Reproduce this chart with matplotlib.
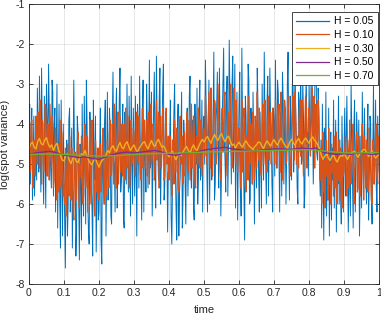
import numpy as np
import matplotlib.pyplot as plt

plt.rcParams['font.family'] = ['Liberation Sans', 'DejaVu Sans']
plt.rcParams['axes.unicode_minus'] = False

# log(spot variance) paths, one list per Hurst index
h005 = [
    -4.2, -3.5, -5.5, -4.4, -3.6, -5.9, -4.9, -3.8, -5.8, -4.6, -4.0, -5.4, -3.1, -4.3, -5.2, -2.8, -4.4, -5.7, -2.6, -4.1, -5.0, -6.0, -3.3, -4.7, -6.1,
    -3.0, -3.9, -5.3, -2.5, -3.7, -4.6, -5.1, -5.6, -2.9, -3.2, -5.8, -4.1, -3.6, -6.2, -4.5, -3.0, -6.6, -4.8, -3.5, -5.9, -7.1, -3.4, -5.3, -6.8, -4.0,
    -5.3, -6.4, -7.6, -4.9, -4.4, -6.8, -6.0, -3.9, -3.6, -6.2, -5.5, -4.1, -7.1, -5.0, -2.9, -4.6, -5.0, -7.3, -6.6, -3.8, -4.2, -5.8, -7.4, -4.5, -5.6,
    -6.9, -3.5, -5.2, -6.3, -3.3, -4.8, -6.5, -2.9, -4.0, -5.9, -6.7, -7.0, -3.7, -4.3, -5.5, -6.1, -7.3, -3.4, -4.9, -5.4, -3.8, -7.2, -5.7, -4.6, -6.4,
    -6.2, -4.7, -3.6, -6.9, -7.5, -4.3, -5.1, -6.0, -4.0, -3.4, -6.8, -5.3, -3.2, -5.9, -5.5, -3.6, -4.3, -6.3, -6.5, -3.9, -2.7, -4.8, -5.0, -6.2, -3.8,
    -3.1, -6.1, -5.2, -4.5, -3.4, -2.6, -5.7, -5.4, -4.1, -3.5, -6.4, -6.6, -3.7, -4.2, -5.5, -3.0, -4.7, -5.7, -3.3, -4.4, -6.3, -2.8, -4.9, -6.0, -3.6,
    -4.6, -5.8, -3.3, -4.9, -6.8, -3.5, -4.0, -5.6, -2.8, -4.5, -5.3, -6.4, -3.7, -2.9, -6.2, -4.1, -4.8, -5.7, -3.0, -3.9, -5.6, -4.3, -2.4, -5.1, -4.4,
    -3.2, -6.3, -5.0, -3.6, -2.7, -5.0, -6.1, -2.3, -4.0, -4.7, -5.4, -3.4, -2.6, -6.0, -4.8, -4.2, -3.1, -2.5, -5.9, -5.5, -3.7, -3.9, -4.6, -6.7, -5.2,
    -5.2, -4.4, -3.4, -6.3, -7.0, -5.5, -4.6, -3.7, -3.0, -5.0, -6.1, -6.9, -4.1, -3.5, -6.8, -5.7, -5.3, -4.2, -3.2, -6.6, -5.8, -3.9, -4.4, -5.5, -6.5,
    -4.0, -3.6, -5.8, -4.9, -3.3, -2.8, -5.2, -5.6, -4.3, -3.9, -6.1, -6.4, -3.5, -4.5, -5.0, -3.1, -6.0, -5.3, -3.6, -2.9, -5.4, -4.7, -3.4, -6.2, -4.1,
    -3.8, -5.0, -2.4, -3.5, -5.1, -6.2, -4.2, -2.9, -6.0, -4.4, -3.1, -5.4, -4.8, -3.7, -2.2, -5.9, -5.5, -4.0, -3.6, -2.7, -4.5, -5.6, -2.6, -4.3, -6.3,
    -5.1, -3.9, -3.0, -2.1, -4.4, -4.9, -5.7, -3.3, -2.8, -5.8, -4.5, -1.9, -3.4, -4.1, -5.5, -3.0, -2.3, -5.2, -4.0, -2.5, -6.1, -4.6, -3.2, -6.4, -4.7,
    -3.5, -2.7, -5.4, -6.3, -2.1, -4.0, -4.6, -5.7, -6.9, -3.3, -3.8, -5.2, -4.9, -2.5, -2.9, -6.0, -5.9, -3.6, -4.2, -5.5, -3.2, -4.5, -6.5, -3.9, -4.7,
    -5.6, -2.6, -3.5, -5.3, -6.2, -3.7, -4.8, -6.1, -3.0, -4.4, -5.4, -2.2, -3.9, -5.0, -6.0, -3.4, -2.8, -5.8, -4.6, -2.6, -3.8, -4.3, -5.5, -6.2, -3.6,
    -3.9, -5.3, -2.4, -4.4, -5.1, -2.9, -3.2, -4.7, -6.2, -3.7, -4.5, -5.8, -2.7, -3.4, -5.5, -4.1, -3.6, -6.0, -4.8, -3.0, -2.2, -4.6, -5.9, -3.3, -4.0,
    -5.4, -3.1, -2.6, -5.2, -4.3, -2.5, -3.8, -4.4, -5.6, -6.0, -3.2, -3.5, -4.7, -2.3, -5.0, -4.9, -2.9, -3.8, -6.1, -5.7, -3.6, -2.8, -4.5, -4.2, -5.3,
    -3.0, -4.1, -4.6, -2.6, -2.2, -3.8, -5.5, -4.3, -3.4, -2.4, -2.0, -4.7, -4.9, -3.1, -3.7, -5.2, -5.8, -4.4, -6.6, -3.5, -5.2, -6.9, -4.1, -5.6, -3.2,
    -6.3, -4.8, -5.9, -3.6, -6.8, -5.0, -4.2, -6.4, -4.6, -5.4, -3.4, -6.1, -5.0, -3.9, -6.7, -4.7, -5.5, -3.3, -6.0, -4.4, -5.7, -6.5, -3.8, -5.1, -6.2,
    -4.5, -3.6, -5.8, -4.4, -3.3, -5.1, -6.7, -5.4, -4.9, -6.3, -3.0, -4.2, -5.5, -6.6, -4.1, -3.4, -6.2, -5.0, -3.7, -4.6, -5.1, -3.9, -6.8, -5.6, -4.3,
    -6.1, -3.2, -4.8, -5.7, -3.6, -4.7, -5.3, -6.0, -4.2, -3.5, -6.4, -5.3, -3.8, -4.0, -5.9, -6.5, -4.6, -3.0, -5.5, -4.8, -3.4, -5.6, -6.2, -3.8, -4.5,
    -5.2,
]
h010 = [
    -4.3, -4.9, -5.2, -4.0, -3.9, -5.0, -5.6, -4.4, -4.6, -5.3, -3.8, -4.5, -5.0, -3.7, -4.2, -5.1, -3.4, -4.6, -5.5, -3.9, -4.0, -5.2, -4.8, -3.5, -3.6,
    -4.7, -5.3, -4.0, -4.4, -5.4, -3.5, -4.3, -5.1, -3.8, -4.7, -5.6, -5.4, -4.4, -4.1, -5.3, -5.9, -4.8, -4.5, -5.7, -3.9, -4.9, -5.6, -4.2, -5.0, -5.8,
    -5.5, -6.0, -4.6, -5.4, -6.3, -4.5, -5.0, -5.8, -4.3, -4.9, -5.9, -4.6, -5.2, -6.1, -6.4, -5.1, -4.7, -5.9, -5.6, -4.5, -4.2, -5.3, -6.1, -5.0, -5.3,
    -4.3, -4.4, -6.0, -5.8, -4.8, -4.0, -5.6, -5.1, -4.3, -6.2, -5.4, -4.6, -3.9, -5.5, -6.0, -3.9, -4.7, -5.0, -5.9, -6.3, -4.4, -4.8, -5.7, -5.4, -4.6,
    -5.9, -5.0, -4.5, -5.7, -5.3, -4.3, -4.1, -5.5, -6.0, -4.7, -5.0, -5.8, -4.4, -4.9, -5.6, -4.2, -3.9, -5.3, -5.2, -4.0, -4.6, -5.5, -3.5, -4.4, -5.0,
    -5.6, -4.2, -3.7, -5.5, -4.6, -3.8, -5.2, -4.7, -4.0, -5.3, -4.5, -4.0, -5.4, -3.6, -4.9, -5.1, -3.8, -4.5, -5.5, -5.6, -4.3, -3.9, -5.0, -4.8, -4.1,
    -4.2, -4.8, -5.3, -4.1, -3.7, -5.0, -4.9, -3.8, -4.3, -5.2, -5.4, -4.4, -3.6, -5.1, -4.6, -3.9, -5.1, -4.5, -3.9, -5.3, -4.4, -3.7, -5.5, -4.6, -3.5,
    -5.0, -4.8, -4.0, -4.1, -5.4, -5.2, -4.3, -3.4, -4.9, -4.5, -3.7, -5.6, -4.4, -3.8, -5.1, -4.7, -3.6, -4.0, -5.4, -5.3, -4.2, -3.6, -5.0, -4.9, -4.3,
    -5.4, -4.8, -4.3, -5.3, -5.8, -4.4, -4.7, -5.5, -3.9, -4.6, -5.2, -4.1, -4.5, -5.6, -5.7, -4.2, -3.8, -5.0, -4.9, -4.3, -5.5, -4.7, -4.2, -5.3, -5.0,
    -4.0, -3.7, -5.2, -4.6, -3.9, -5.4, -4.5, -3.5, -5.1, -4.8, -3.8, -4.1, -5.4, -5.6, -4.3, -4.4, -5.0, -3.6, -4.6, -5.1, -3.9, -4.0, -5.3, -4.7, -4.1,
    -4.2, -4.8, -3.3, -4.1, -5.0, -4.4, -3.8, -3.2, -4.6, -5.1, -3.1, -3.9, -5.3, -4.5, -4.0, -3.4, -3.5, -5.0, -4.8, -4.2, -3.0, -3.7, -4.4, -5.2, -5.4,
    -4.0, -3.6, -4.7, -4.1, -3.3, -3.2, -4.5, -4.9, -5.3, -3.7, -4.2, -4.5, -3.5, -3.0, -4.7, -5.1, -4.4, -3.9, -3.1, -4.3, -5.0, -3.4, -4.6, -5.2, -4.4,
    -4.1, -4.9, -5.6, -4.2, -3.4, -5.2, -4.8, -3.6, -3.9, -5.0, -5.7, -4.3, -4.4, -5.4, -3.3, -4.1, -5.0, -4.0, -4.6, -5.5, -3.7, -4.4, -5.4, -3.8, -4.0,
    -5.1, -3.2, -4.5, -4.9, -3.6, -4.3, -5.2, -5.3, -4.1, -3.5, -5.0, -4.7, -3.4, -3.9, -4.8, -5.2, -4.4, -3.3, -4.9, -4.5, -3.7, -5.0, -4.2, -3.6, -4.6,
    -4.4, -5.0, -3.4, -4.2, -5.1, -4.5, -3.9, -3.5, -4.7, -5.2, -3.2, -4.0, -5.4, -4.6, -4.1, -3.4, -3.6, -5.0, -4.9, -4.3, -3.3, -3.9, -4.5, -5.3, -5.2,
    -4.4, -3.8, -3.3, -4.2, -4.9, -3.2, -3.8, -5.0, -4.4, -4.3, -5.1, -3.7, -3.4, -4.8, -4.0, -3.4, -4.6, -5.3, -4.5, -4.0, -3.3, -3.5, -5.1, -4.6, -3.9,
    -3.6, -4.4, -4.8, -3.7, -3.1, -4.6, -4.3, -3.3, -5.1, -4.0, -3.5, -4.7, -4.5, -3.4, -3.9, -4.9, -5.4, -4.6, -6.0, -5.0, -4.2, -5.7, -4.9, -6.1, -4.4,
    -5.3, -4.8, -5.9, -4.1, -5.5, -5.0, -6.0, -4.5, -5.2, -4.7, -5.8, -4.3, -5.6, -5.1, -4.2, -6.0, -4.9, -5.4, -4.4, -5.9, -4.6, -5.2, -6.1, -4.8, -5.3,
    -5.2, -4.6, -4.3, -5.4, -5.8, -4.4, -4.8, -5.6, -3.9, -4.7, -5.5, -5.1, -4.6, -4.0, -6.0, -5.2, -5.0, -4.5, -4.2, -5.7, -5.6, -4.3, -4.7, -5.8, -5.3,
    -4.5, -4.0, -5.1, -5.9, -4.3, -4.9, -5.6, -4.4, -4.8, -5.7, -5.0, -4.1, -4.6, -5.2, -5.9, -6.0, -4.4, -4.6, -5.5, -5.1, -4.2, -4.0, -5.3, -5.5, -4.3,
    -4.8,
]
h030 = [
    -4.62, -4.50, -4.45, -4.58, -4.62, -4.44, -4.36, -4.49, -4.52, -4.40, -4.34, -4.50, -4.58, -4.52, -4.66, -4.54, -4.48, -4.66, -4.78, -4.90,
    -4.92, -4.80, -4.74, -4.90, -4.99, -4.86, -4.82, -4.93, -4.96, -4.82, -4.74, -4.78, -4.66, -4.79, -4.89, -4.97, -5.02, -4.90, -4.86, -4.98,
    -5.08, -4.96, -4.90, -4.84, -4.78, -4.66, -4.72, -4.60, -4.54, -4.64, -4.68, -4.55, -4.46, -4.58, -4.62, -4.50, -4.44, -4.56, -4.66, -4.58,
    -4.52, -4.63, -4.71, -4.60, -4.54, -4.47, -4.44, -4.55, -4.62, -4.50, -4.41, -4.52, -4.56, -4.44, -4.38, -4.49, -4.58, -4.55, -4.64, -4.75,
    -4.82, -4.73, -4.68, -4.81, -4.89, -4.78, -4.72, -4.79, -4.70, -4.62, -4.56, -4.66, -4.73, -4.60, -4.52, -4.62, -4.66, -4.55, -4.46, -4.38,
    -4.45, -4.36, -4.31, -4.41, -4.48, -4.35, -4.26, -4.35, -4.41, -4.30, -4.24, -4.36, -4.44, -4.34, -4.30, -4.42, -4.53, -4.50, -4.60, -4.51,
    -4.45, -4.53, -4.58, -4.48, -4.42, -4.50, -4.56, -4.59, -4.64, -4.56, -4.52, -4.45, -4.46, -4.55, -4.61, -4.50, -4.42, -4.49, -4.55, -4.46,
    -4.39, -4.47, -4.53, -4.42, -4.35, -4.44, -4.51, -4.58, -4.57, -4.45, -4.38, -4.47, -4.53, -4.42, -4.36, -4.45, -4.50, -4.41, -4.35, -4.42,
    -4.48, -4.38, -4.32, -4.40, -4.45, -4.52, -4.62, -4.78, -4.88, -4.80, -4.75, -4.85, -4.91, -4.82, -4.77, -4.88, -4.95, -4.85, -4.79, -4.80,
    -4.72, -4.82, -4.88, -4.79, -4.75, -4.70, -4.68, -4.77, -4.83, -4.74, -4.69, -4.64, -4.63, -4.74, -4.81, -4.72, -4.67, -4.78, -4.85, -4.80,
    -4.75,
]
h050 = [
    -4.76, -4.72, -4.70, -4.68, -4.72, -4.78, -4.80, -4.84, -4.82, -4.86,
    -4.88, -4.82, -4.76, -4.72, -4.70, -4.72, -4.70, -4.68, -4.66, -4.70,
    -4.76, -4.78, -4.74, -4.72, -4.70, -4.65, -4.62, -4.60, -4.58, -4.62,
    -4.64, -4.66, -4.68, -4.66, -4.64, -4.62, -4.62, -4.64, -4.62, -4.60,
    -4.62, -4.60, -4.70, -4.74, -4.76, -4.74, -4.76, -4.72, -4.74, -4.76, -4.74,
]
h070 = [-4.76, -4.75, -4.76, -4.78, -4.80, -4.79, -4.76, -4.74, -4.73, -4.72,
        -4.70, -4.69, -4.68, -4.67, -4.66, -4.65, -4.64, -4.68, -4.72, -4.72, -4.71]

series = [h005, h010, h030, h050, h070]
labels = ['H = 0.05', 'H = 0.10', 'H = 0.30', 'H = 0.50', 'H = 0.70']
colors = ['#0072BD', '#D95319', '#EDB120', '#7E2F8E', '#77AC30']
widths = [0.7, 0.9, 1.0, 1.0, 1.0]

fig = plt.figure(figsize=(3.81, 3.17), dpi=100)
ax = fig.add_axes([0.076, 0.104, 0.919, 0.883])
for vals, lab, c, w in zip(series, labels, colors, widths):
    t = np.linspace(0, 1, len(vals))
    ax.plot(t, vals, color=c, linewidth=w, label=lab)

ax.set_xlim(0, 1)
ax.set_ylim(-8, -1)
ax.set_xticks(np.arange(0, 1.01, 0.1))
ax.set_xticklabels(['0', '0.1', '0.2', '0.3', '0.4', '0.5', '0.6', '0.7', '0.8', '0.9', '1'])
ax.set_yticks(range(-8, 0))
ax.grid(True, color='#262626', alpha=0.12, linewidth=0.6)
ax.tick_params(direction='in', length=3, width=0.6, top=True, right=True,
               labelsize=7.5, colors='#262626', pad=3)
for s in ax.spines.values():
    s.set_color('#262626')
    s.set_linewidth(0.6)
ax.set_xlabel('time', fontsize=8, color='#262626', labelpad=5)
ax.set_ylabel('log(spot variance)', fontsize=8, color='#262626', labelpad=4)

leg = ax.legend(loc='upper right', bbox_to_anchor=(0.997, 0.971), borderaxespad=0,
                fontsize=7.5, fancybox=False, framealpha=1, edgecolor='#262626',
                handlelength=3.2, labelspacing=0.35, borderpad=0.4, handletextpad=0.5)
leg.get_frame().set_linewidth(0.6)
for line in leg.get_lines():
    line.set_linewidth(0.9)

fig.savefig('out.png', dpi=100)
